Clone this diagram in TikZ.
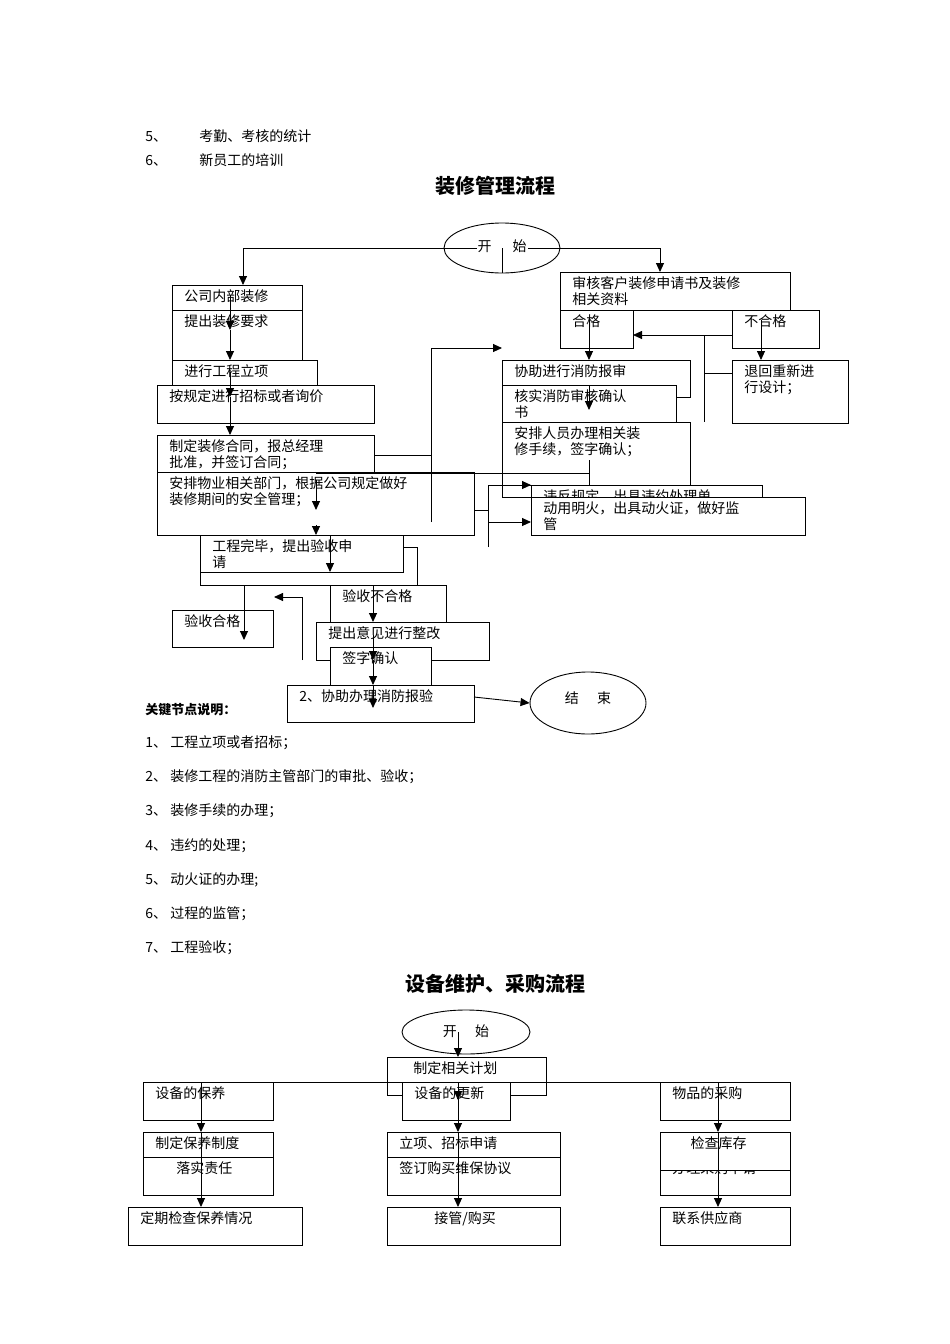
\documentclass[tikz,border=0pt]{standalone}
\usepackage{fontspec}
\setmainfont{Noto Sans CJK SC}
\usetikzlibrary{arrows.meta,shapes.geometric}
\newcommand\bx[6]{%
  \draw[fill=white,line width=0.9pt] (#2,#3) rectangle (#4,#5);
  \node[anchor=north west,align=left,inner sep=0pt,font=\fontsize{14}{16.5}\selectfont] (#1) at ({#2+12},{#3+4}) {#6};}
\begin{document}
\begin{tikzpicture}[x=1pt,y=-1pt,line width=0.9pt,
  ar/.style={-{Triangle[length=9pt,width=8pt]}},
  tx/.style={anchor=west,inner sep=0pt,font=\fontsize{14}{16}\selectfont}]
\useasboundingbox[fill=white] (0,0) rectangle (950,1344);
\node[tx] (l5) at (145,136) {5、\hspace{2.3em}考勤、考核的统计};
\node[tx] (l6) at (145,160) {6、\hspace{2.3em}新员工的培训};
\node[font=\fontsize{20}{22}\selectfont\bfseries] (t1) at (495,186) {装修管理流程};
% start ellipse
\node[draw,ellipse,minimum width=116pt,minimum height=50pt,fill=white] (st) at (502,248) {};
\draw (243,248) -- (660,248);
\node[font=\fontsize{14}{16}\selectfont,fill=white,inner sep=1pt] (stt) at (502,246) {开\hspace{1.5em}始};
\draw (502,248) -- (502,273);
\draw[ar] (243,248) -- (243,285);
\draw[ar] (660,248) -- (660,272);
% right-top
\bx{a1}{560}{272}{790}{310}{审核客户装修申请书及装修\\相关资料}
\bx{a2}{560}{310}{633}{348}{合格}
\bx{a3}{732}{310}{819}{348}{不合格}
\bx{a4}{732}{360}{848}{423}{退回重新进\\行设计；}
\draw (704,373) -- (732,373);
\draw (704,335) -- (704,422);
\draw[ar] (732,335) -- (633,335);
\draw[ar] (761,320) -- (761,360);
\bx{b1}{502}{360}{690}{397}{协助进行消防报审}
\draw (676,397) -- (690,397);
\bx{b2}{502}{385}{676}{422}{核实消防审核确认\\书}
\bx{b3}{502}{422}{690}{497}{安排人员办理相关装\\修手续，签字确认；}
\draw[ar] (589,320) -- (589,360);
\draw[ar] (589,385) -- (589,410);
% left column
\bx{c1}{172}{285}{302}{310}{公司内部装修}
\bx{c2}{172}{310}{302}{385}{提出装修要求}
\bx{c3}{172}{360}{317}{385}{进行工程立项}
\bx{c4}{157}{385}{374}{423}{按规定进行招标或者询价}
\bx{c5}{157}{435}{374}{485}{制定装修合同，报总经理\\批准，并签订合同；}
\bx{c6}{157}{472}{474}{535}{安排物业相关部门，根据公司规定做好\\装修期间的安全管理；}
\draw[ar] (230,295) -- (230,330);
\draw[ar] (230,330) -- (230,360);
\draw[ar] (230,372) -- (230,397);
\draw[ar] (230,397) -- (230,435);
\draw (374,455) -- (431,455);
\draw[ar] (431,522) -- (431,348) -- (502,348);
\draw (316,473) -- (589,473);
\draw (589,460) -- (589,490);
\draw[ar] (316,480) -- (316,510);
\draw (474,510) -- (488,510);
\draw (488,547) -- (488,485);
\draw (502,472) -- (502,485);
\bx{d1}{531}{485}{762}{522}{违反规定，出具违约处理单}
\bx{d2}{531}{497}{805}{535}{动用明火，出具动火证，做好监\\管}
\draw[ar] (488,485) -- (531,485);
\draw[ar] (488,522) -- (531,522);
\draw (502,485) -- (531,485);
% bottom part
\draw (403,547) -- (417,547) -- (417,585) -- (200,585) -- (200,560);
\bx{e1}{200}{535}{403}{572}{工程完毕，提出验收申\\请}
\draw[ar] (316,525) -- (316,535);
\draw[ar] (330,535) -- (330,572);
\bx{e2}{172}{610}{273}{647}{验收合格}
\draw[ar] (244,585) -- (244,640);
\draw[ar] (302,660) -- (302,597) -- (274,597);
\bx{e3}{330}{585}{446}{647}{验收不合格}
\bx{e4}{316}{622}{489}{660}{提出意见进行整改}
\bx{e5}{330}{647}{431}{685}{签字确认}
\bx{e6}{287}{685}{474}{722}{2、协助办理消防报验}
\draw[ar] (373,585) -- (373,622);
\draw[ar] (373,635) -- (373,660);
\draw[ar] (373,660) -- (373,685);
\draw[ar] (373,685) -- (373,708);
\node[draw,ellipse,minimum width=116pt,minimum height=62pt] (en) at (588,703) {};
\node[font=\fontsize{14}{16}\selectfont] (ent) at (588,698) {结\hspace{1.3em}束};
\draw[ar] (474,697) -- (en.west);
% key notes
\node[tx,font=\fontsize{13}{15}\selectfont\bfseries] (kn) at (145,710) {关键节点说明：};
\node[tx] (k1) at (145,743) {1、 工程立项或者招标；};
\node[tx] (k2) at (145,777) {2、 装修工程的消防主管部门的审批、验收；};
\node[tx] (k3) at (145,811) {3、 装修手续的办理；};
\node[tx] (k4) at (145,846) {4、 违约的处理；};
\node[tx] (k5) at (145,880) {5、 动火证的办理;};
\node[tx] (k6) at (145,914) {6、 过程的监管；};
\node[tx] (k7) at (145,948) {7、 工程验收；};
% second chart
\node[font=\fontsize{20}{22}\selectfont\bfseries] (t2) at (495,984) {设备维护、采购流程};
\node[draw,ellipse,minimum width=128pt,minimum height=44pt] (s2) at (466,1032) {};
\node[font=\fontsize{14}{16}\selectfont] (s2t) at (466,1031) {开\hspace{1.3em}始};
\bx{f0}{387}{1057}{546}{1095}{\hspace{1em}制定相关计划}
\draw (143,1082) -- (790,1082);
\draw[ar] (458,1032) -- (458,1057);
\bx{g1}{143}{1082}{273}{1120}{设备的保养}
\bx{g2}{143}{1132}{273}{1170}{制定保养制度}
\bx{g3}{143}{1157}{273}{1195}{\hspace{1.5em}落实责任}
\bx{g4}{128}{1207}{302}{1245}{定期检查保养情况}
\bx{h1}{402}{1082}{510}{1120}{设备的更新}
\bx{h2}{387}{1132}{560}{1170}{立项、招标申请}
\bx{h3}{387}{1157}{560}{1195}{签订购买维保协议}
\bx{h4}{387}{1207}{560}{1245}{\hspace{2.5em}接管/购买}
\bx{i1}{660}{1082}{790}{1120}{物品的采购}
\bx{i3}{660}{1157}{790}{1195}{办理采购申请}
\bx{i2}{660}{1132}{790}{1170}{\hspace{1.3em}检查库存}
\bx{i4}{660}{1207}{790}{1245}{联系供应商}
\foreach \xx/\nm in {201/p,458/q,718/r}{
  \draw[ar] (\xx,1082) -- (\xx,1132);
  \draw[ar] (\xx,1132) -- (\xx,1207);
}
\draw[ar] (458,1095) -- (458,1100);
\end{tikzpicture}
\end{document}
